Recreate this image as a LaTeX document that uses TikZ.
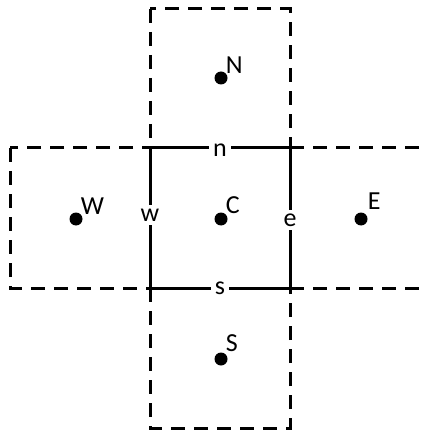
\documentclass[tikz,border=0pt]{standalone}
\usepackage{fontspec}
\setmainfont{Carlito}
\begin{document}
\begin{tikzpicture}[
    x=1pt, y=-1pt,
    cell/.style={line width=3pt, dash pattern=on 14pt off 9pt},
    face/.style={line width=3pt},
    dot/.style={circle, fill=black, inner sep=0pt, minimum size=13pt},
    pname/.style={anchor=south west, inner sep=0pt, font=\fontsize{26}{30}\selectfont},
    fname/.style={fill=white, inner sep=4pt, font=\fontsize{26}{30}\selectfont},
]
    \useasboundingbox (0,0) rectangle (428,430);

    % corners of the control volume
    \coordinate (nw) at (150,148);
    \coordinate (ne) at (290,148);
    \coordinate (sw) at (150,288);
    \coordinate (se) at (290,288);

    % neighbouring cells
    \draw[cell] (150,9) rectangle (ne);
    \draw[cell] (sw) rectangle (290,428);
    \draw[cell] (10,148) rectangle (sw);
    \draw[cell] (ne) -- (428,148);
    \draw[cell] (se) -- (428,288);

    % the cell itself
    \draw[face] (nw) -- (ne) -- (se) -- (sw) -- cycle;

    % nodes
    \node[dot] (C) at (221,219) {};
    \node[dot] (N) at (221,78) {};
    \node[dot] (S) at (221,359) {};
    \node[dot] (W) at (76,219) {};
    \node[dot] (E) at (361,219) {};

    \node[pname] (Cl) at (C.north east) {C};
    \node[pname] (Nl) at (N.north east) {N};
    \node[pname] (Sl) at ([yshift=2pt]S.north east) {S};
    \node[pname] (Wl) at (W.north east) {W};
    \node[pname] (El) at ([xshift=2pt,yshift=5pt]E.north east) {E};

    % faces
    \node[fname] (n) at (220,150) {n};
    \node[fname] (s) at (220,288) {s};
    \node[fname, inner xsep=1pt] (w) at (150,215) {w};
    \node[fname, inner xsep=1pt] (e) at (290,220) {e};
\end{tikzpicture}
\end{document}
